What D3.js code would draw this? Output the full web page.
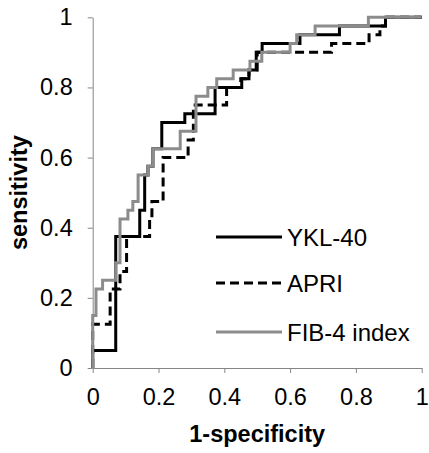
<!DOCTYPE html>
<html>
<head>
<meta charset="utf-8">
<script src="https://cdn.jsdelivr.net/npm/d3@7"></script>
<style>
  body { margin: 0; background: #fff; }
  svg text { font-family: "Liberation Sans", Arial, sans-serif; fill: #000; }
</style>
</head>
<body>
<svg id="chart" width="429" height="453"></svg>
<script>
// step points: curve rises to tpr[i] at fpr[i]
var yklFpr = [0, 0, 0.07, 0.143, 0.158, 0.168, 0.183, 0.21, 0.28, 0.372, 0.453, 0.475, 0.497, 0.515, 0.63, 0.75, 0.89, 1];
var yklTpr = [0, 0.05, 0.375, 0.45, 0.55, 0.575, 0.625, 0.7, 0.725, 0.8, 0.825, 0.85, 0.9, 0.925, 0.95, 0.975, 1, 1];

var apriFpr = [0, 0, 0.053, 0.083, 0.103, 0.173, 0.18, 0.214, 0.29, 0.306, 0.407, 0.45, 0.475, 0.5, 0.726, 0.84, 0.873, 0.89, 1];
var apriTpr = [0, 0.125, 0.225, 0.275, 0.375, 0.425, 0.475, 0.6, 0.65, 0.75, 0.8, 0.825, 0.85, 0.9, 0.925, 0.95, 0.975, 1, 1];

var fibFpr = [0, 0, 0.01, 0.03, 0.07, 0.083, 0.107, 0.122, 0.138, 0.168, 0.183, 0.266, 0.314, 0.35, 0.377, 0.427, 0.478, 0.514, 0.6, 0.62, 0.676, 0.838, 1];
var fibTpr = [0, 0.15, 0.225, 0.25, 0.3, 0.425, 0.45, 0.475, 0.55, 0.575, 0.625, 0.675, 0.775, 0.8, 0.825, 0.85, 0.875, 0.9, 0.925, 0.95, 0.975, 1, 1];

var seriesNames = ["YKL-40", "APRI", "FIB-4 index"];
var ticks = [0, 0.2, 0.4, 0.6, 0.8, 1];

var series = [
	{name: seriesNames[0], fpr: yklFpr, tpr: yklTpr, color: "#000", dash: null},
	{name: seriesNames[1], fpr: apriFpr, tpr: apriTpr, color: "#000", dash: "9,5"},
	{name: seriesNames[2], fpr: fibFpr, tpr: fibTpr, color: "#8c8c8c", dash: null}
];

var svg = d3.select("#chart");
var x = d3.scaleLinear().domain([0, 1]).range([92.7, 421.7]),
	y = d3.scaleLinear().domain([0, 1]).range([368, 17.3]);

var fmt = function(d){ return d === 0 || d === 1 ? d3.format("d")(d) : d3.format(".1f")(d); };

var xAxis = svg.append("g")
	.attr("transform", "translate(0," + y(0) + ")")
	.call(d3.axisBottom(x).tickValues(ticks).tickSize(5).tickSizeOuter(0).tickPadding(15).tickFormat(fmt));
var yAxis = svg.append("g")
	.attr("transform", "translate(" + x(0) + ",0)")
	.call(d3.axisLeft(y).tickValues(ticks).tickSize(5).tickSizeOuter(0).tickPadding(15).tickFormat(fmt));

[xAxis, yAxis].forEach(function(a){
	a.select(".domain").attr("stroke", "#868686");
	a.selectAll(".tick line").attr("stroke", "#868686");
	a.selectAll(".tick text").attr("font-size", "23.5px").attr("font-family", "Liberation Sans, Arial, sans-serif").attr("fill", "#000");
});

svg.append("text")
	.attr("x", (x(0) + x(1)) / 2)
	.attr("y", 442)
	.attr("text-anchor", "middle")
	.attr("font-size", "23.5px")
	.attr("font-weight", "bold")
	.text("1-specificity");

svg.append("text")
	.attr("transform", "translate(27," + (y(0) + y(1)) / 2 + ") rotate(-90)")
	.attr("text-anchor", "middle")
	.attr("font-size", "23.5px")
	.attr("font-weight", "bold")
	.text("sensitivity");

var line = d3.line()
	.x(function(d){ return x(d[0]); })
	.y(function(d){ return y(d[1]); })
	.curve(d3.curveStepAfter);

series.forEach(function(s){
	var pts = s.fpr.map(function(f, i){ return [f, s.tpr[i]]; });
	svg.append("path")
		.datum(pts)
		.attr("fill", "none")
		.attr("stroke", s.color)
		.attr("stroke-width", 3)
		.attr("stroke-dasharray", s.dash)
		.attr("d", line);
});

// legend
var legY = [237, 283, 332];
series.forEach(function(s, i){
	var g = svg.append("g").attr("transform", "translate(216," + legY[i] + ")");
	g.append("line")
		.attr("x1", 0).attr("x2", 66)
		.attr("stroke", s.color)
		.attr("stroke-width", 3)
		.attr("stroke-dasharray", s.dash);
	g.append("text")
		.attr("x", 71)
		.attr("y", 8.5)
		.attr("font-size", "24px")
		.text(s.name);
});
</script>
</body>
</html>
